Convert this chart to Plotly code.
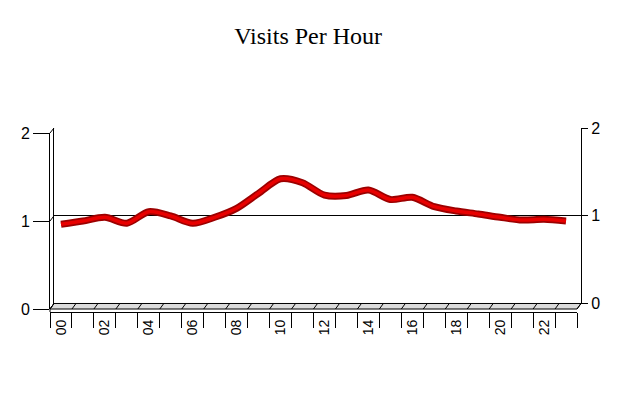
import plotly.graph_objects as go

# ---- data ----
hours = list(range(24))
visits = [0.963, 1.000, 1.042, 0.974, 1.106, 1.057, 0.974, 1.042, 1.144, 1.315,
          1.480, 1.435, 1.295, 1.290, 1.352, 1.244, 1.269, 1.163, 1.114, 1.080,
          1.042, 1.011, 1.019, 1.000]
tick_hours = list(range(0, 24, 2))
tick_text = ["%02d" % h for h in tick_hours]
y_ticks = [0, 1, 2]

# ---- geometry (pixels) ----
W, H = 620, 400
L, R, T, B = 50, 581, 128, 312
PW, PH = R - L, B - T


def fx(px):
    return (px - L) / PW


def fy(py):
    return (B - py) / PH


FRONT_L, FRONT_R, FRONT_B, FRONT_T = 50, 577, 309, 133
BACK_L, BACK_R, BACK_B, BACK_T = 54, 581, 303.5, 128

fig = go.Figure()

# placeholder trace so the back-plane subplot is created
fig.add_trace(go.Scatter(x=[None], y=[None], xaxis="x", yaxis="y", mode="lines",
                         hoverinfo="skip", showlegend=False))
# outline of the thick line (dark red) and inner red line, on the front plane
fig.add_trace(go.Scatter(x=hours, y=visits, mode="lines", xaxis="x2", yaxis="y2",
                         line=dict(color="#9c0000", width=7, shape="spline", smoothing=0.8),
                         hoverinfo="skip", showlegend=False))
fig.add_trace(go.Scatter(x=hours, y=visits, mode="lines", xaxis="x2", yaxis="y2",
                         line=dict(color="#e80000", width=3.5, shape="spline", smoothing=0.8),
                         showlegend=False))

font = dict(family="Liberation Sans, Arial, sans-serif", size=16, color="black")

shapes = []
# floor
shapes.append(dict(type="path", xref="paper", yref="paper", layer="below",
                   path="M %f %f L %f %f L %f %f L %f %f Z" % (
                       fx(FRONT_L), fy(FRONT_B), fx(BACK_L), fy(BACK_B),
                       fx(BACK_R), fy(BACK_B), fx(FRONT_R), fy(FRONT_B)),
                   fillcolor="#dcdcdc", line=dict(color="black", width=1)))
n = len(hours)
step = (FRONT_R - FRONT_L) / n
for i in range(n + 1):
    shapes.append(dict(type="line", xref="paper", yref="paper",
                       x0=fx(FRONT_L + i * step), y0=fy(FRONT_B),
                       x1=fx(BACK_L + i * step), y1=fy(BACK_B),
                       line=dict(color="black", width=1)))
# corner diagonals at value levels
for v in y_ticks:
    yf = FRONT_B - (FRONT_B - FRONT_T) * v / 2
    yb = BACK_B - (BACK_B - BACK_T) * v / 2
    shapes.append(dict(type="line", xref="paper", yref="paper",
                       x0=fx(FRONT_L), y0=fy(yf), x1=fx(BACK_L), y1=fy(yb),
                       line=dict(color="black", width=1)))
# short joint between front plane and axis line
shapes.append(dict(type="line", xref="paper", yref="paper",
                   x0=fx(FRONT_L), y0=fy(FRONT_B), x1=fx(FRONT_L), y1=0,
                   line=dict(color="black", width=1)))

fig.update_layout(
    width=W, height=H,
    margin=dict(l=L, r=W - R, t=T, b=H - B, pad=0),
    paper_bgcolor="white", plot_bgcolor="rgba(0,0,0,0)",
    showlegend=False,
    title=dict(text="Visits Per Hour", x=0.497, xanchor="center",
               yref="container", y=1 - 36 / H, yanchor="middle",
               font=dict(family="Liberation Serif, Times New Roman, serif", size=24, color="black")),
    # back plane
    xaxis=dict(domain=[fx(BACK_L), fx(BACK_R)], range=[-0.5, 23.5],
               showticklabels=False, ticks="", showline=False, showgrid=False,
               zeroline=False, anchor="y", fixedrange=True),
    yaxis=dict(domain=[fy(BACK_B), fy(BACK_T)], range=[0, 2], anchor="x", side="right",
               tickvals=y_ticks, ticks="outside", ticklen=6, tickcolor="black",
               showline=True, linecolor="black", linewidth=1, mirror=True,
               showgrid=True, gridcolor="black", gridwidth=1, zeroline=False,
               tickfont=font, fixedrange=True),
    # front plane
    xaxis2=dict(domain=[fx(FRONT_L), fx(FRONT_R)], range=[-0.5, 23.5],
                anchor="free", position=0,
                tickvals=tick_hours, ticktext=tick_text, tickangle=-90,
                ticks="outside", ticklen=1, tickcolor="rgba(0,0,0,0)",
                minor=dict(ticks="outside", tick0=-0.5, dtick=1, ticklen=15,
                           tickcolor="black", tickwidth=1, showgrid=False),
                showline=True, linecolor="black", linewidth=1,
                showgrid=False, zeroline=False,
                tickfont=dict(family="Liberation Sans, Arial, sans-serif", size=14, color="black"),
                fixedrange=True),
    yaxis2=dict(domain=[fy(FRONT_B), fy(FRONT_T)], range=[0, 2], anchor="x2",
                tickvals=y_ticks, ticks="outside", ticklen=16, tickcolor="black",
                showline=True, linecolor="black", linewidth=1,
                showgrid=False, zeroline=False, tickfont=font, fixedrange=True),
    shapes=shapes,
)

fig.write_html("out.html", config={"displayModeBar": False},
               post_script="document.body.style.margin='0px';")
